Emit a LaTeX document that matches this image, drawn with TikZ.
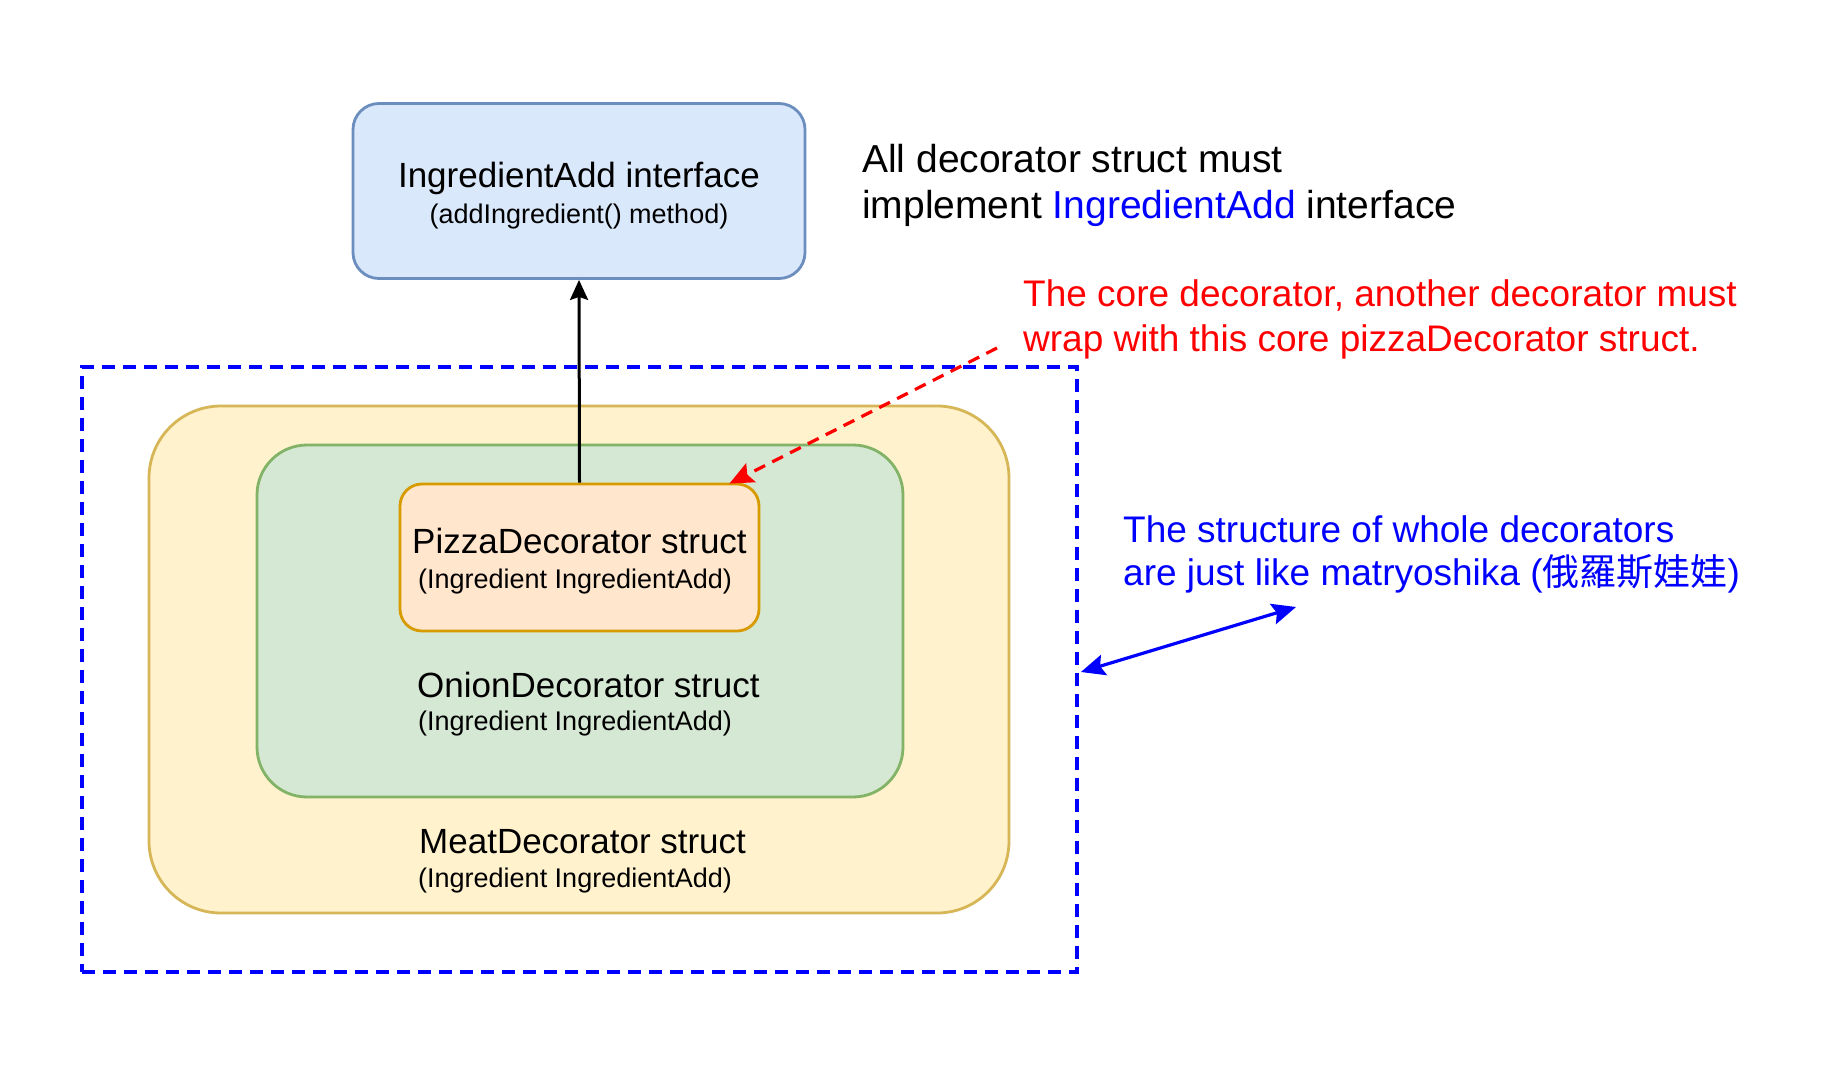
\documentclass[tikz,border=0pt]{standalone}
\usepackage{fontspec}
\setmainfont{Liberation Sans}
\newfontfamily\cjkfont{Noto Sans CJK TC}
\usetikzlibrary{arrows.meta,calc}
\definecolor{ifaceFill}{HTML}{DAE8FC}
\definecolor{ifaceLine}{HTML}{6C8EBF}
\definecolor{meatFill}{HTML}{FFF2CC}
\definecolor{meatLine}{HTML}{D6B656}
\definecolor{onionFill}{HTML}{D5E8D4}
\definecolor{onionLine}{HTML}{82B366}
\definecolor{pizzaFill}{HTML}{FFE6CC}
\definecolor{pizzaLine}{HTML}{D79B00}
\definecolor{noteRed}{HTML}{FF0000}
\definecolor{noteBlue}{HTML}{0000FF}
\tikzset{
  bigtip/.tip={Stealth[length=24pt,width=21pt,inset=4pt]},
  blacktip/.tip={Stealth[length=20pt,width=18pt,inset=3pt]},
}
\begin{document}
\begin{tikzpicture}[x=1pt,y=-1pt,
  boxshape/.style={draw, rectangle, line width=2.8pt, inner sep=0pt},
  bigtxt/.style={inner sep=0pt, font=\fontsize{35}{42}\selectfont},
  smalltxt/.style={inner sep=0pt, font=\fontsize{27}{32}\selectfont},
  notetxt/.style={inner sep=0pt, font=\fontsize{39}{46}\selectfont},
  redtxt/.style={inner sep=0pt, text=noteRed, font=\fontsize{37}{44}\selectfont},
  bluetxt/.style={inner sep=0pt, text=noteBlue, font=\fontsize{37}{44}\selectfont},
]
\fill[white] (0,0) rectangle (1842,1076);
\useasboundingbox (0,0) rectangle (1842,1076);

% outer dashed frame
\node[draw=noteBlue, line width=3.8pt, dash pattern=on 13pt off 8pt, rectangle,
      minimum width=995pt, minimum height=605pt, inner sep=0pt] (outer) at (579.5,669.5) {};

% boxes
\node[boxshape, draw=ifaceLine, fill=ifaceFill, rounded corners=26pt,
      minimum width=452pt, minimum height=175pt] (iface) at (579,191) {};
\node[boxshape, draw=meatLine, fill=meatFill, rounded corners=72pt,
      minimum width=860pt, minimum height=507pt] (meat) at (579,659.5) {};
\node[boxshape, draw=onionLine, fill=onionFill, rounded corners=50pt,
      minimum width=646pt, minimum height=352pt] (onion) at (580,621) {};
\node[boxshape, draw=pizzaLine, fill=pizzaFill, rounded corners=22pt,
      minimum width=359pt, minimum height=147pt] (pizza) at (579.5,557.5) {};

% box texts
\node[bigtxt, anchor=base] (ifaceA) at (579,187) {IngredientAdd interface};
\node[smalltxt, anchor=base] (ifaceB) at (579,223) {(addIngredient() method)};
\node[bigtxt, anchor=base] (pizzaA) at (579.5,553) {PizzaDecorator struct};
\node[smalltxt, anchor=base] (pizzaB) at (575,588) {(Ingredient IngredientAdd)};
\node[bigtxt, anchor=base west] (onionA) at (417,697) {OnionDecorator struct};
\node[smalltxt, anchor=base west] (onionB) at (418,730) {(Ingredient IngredientAdd)};
\node[bigtxt, anchor=base west] (meatA) at (419,853) {MeatDecorator struct};
\node[smalltxt, anchor=base west] (meatB) at (418,887) {(Ingredient IngredientAdd)};

% notes
\node[notetxt, anchor=base west] (noteA) at (862,172) {All decorator struct must};
\node[notetxt, anchor=base west] (noteB) at (862,218) {implement \textcolor{noteBlue}{IngredientAdd} interface};
\node[redtxt, anchor=base west] (redA) at (1023,306) {The core decorator, another decorator must};
\node[redtxt, anchor=base west] (redB) at (1023,351) {wrap with this core pizzaDecorator struct.};
\node[bluetxt, anchor=base west] (blueA) at (1123,542) {The structure of whole decorators};
\node[bluetxt, anchor=base west] (blueB) at (1123,585) {are just like matryoshika ({\cjkfont 俄羅斯娃娃})};

% connectors
\draw[-blacktip, line width=3pt, black] (pizza.north) -- (iface.south);

\coordinate (redStart) at (997,348);
\draw[noteRed, line width=3.2pt, dash pattern=on 12pt off 8pt, -bigtip]
      (redStart) -- ($(pizza.north east)+(-31,1)$);

\coordinate (blueEnd) at (1296,607);
\draw[noteBlue, line width=3.2pt, bigtip-bigtip]
      ($(outer.east)+(2,2.5)$) -- (blueEnd);
\end{tikzpicture}
\end{document}
